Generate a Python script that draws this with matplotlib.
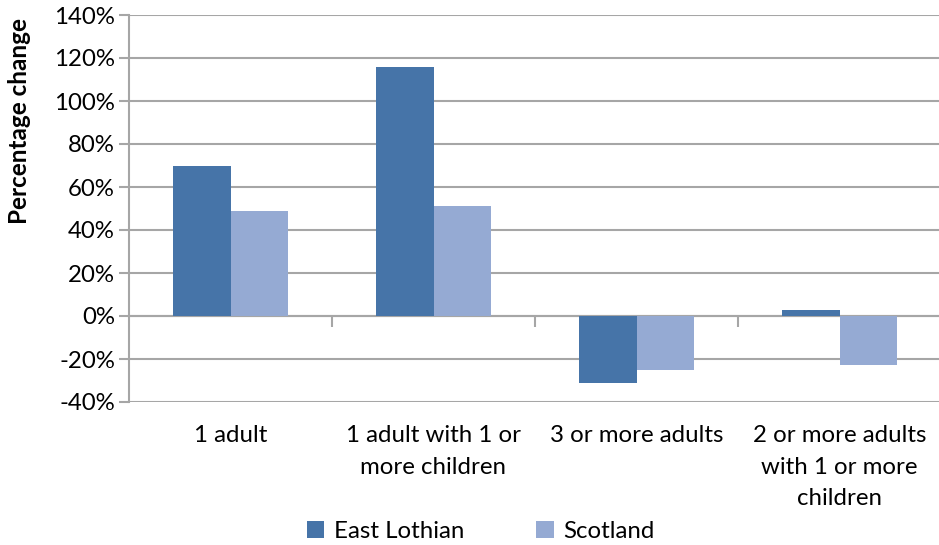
import matplotlib.pyplot as plt
import matplotlib.transforms as mtransforms
import numpy as np

categories = ["1 adult", "1 adult with 1 or\nmore children", "3 or more adults",
              "2 or more adults\nwith 1 or more\nchildren"]
east_lothian = [70, 116, -31, 3]
scotland = [49, 51, -25, -23]
yticks = [-40, -20, 0, 20, 40, 60, 80, 100, 120, 140]

plt.rcParams['font.family'] = ['Lato', 'DejaVu Sans']
grid_col = "#a6a6a6"
fs = 17.3

fig = plt.figure(figsize=(9.39, 5.45), dpi=100)
ax = fig.add_axes([129/939, 1 - 402/545, (941-129)/939, (402-15)/545])

x = np.arange(len(categories))
w = 0.285
ax.bar(x - w/2, east_lothian, w, color="#4674a8", label="East Lothian", zorder=3)
ax.bar(x + w/2, scotland, w, color="#95aad3", label="Scotland", zorder=3)

ax.set_xlim(-0.5, len(categories) - 0.5)
ax.set_ylim(-40, 140)
ax.set_yticks(yticks)
ax.set_yticklabels([f"{v}%" for v in yticks], fontsize=fs)
ax.yaxis.grid(True, color=grid_col, linewidth=1.5, zorder=0)
ax.tick_params(axis='y', length=7, width=1.5, color=grid_col, pad=3)

# category boundary ticks hang off the zero line
ax.spines['bottom'].set_position(('data', 0))
ax.spines['bottom'].set_color(grid_col)
ax.spines['bottom'].set_linewidth(1.5)
ax.set_xticks(x[:-1] + 0.5)
ax.set_xticklabels([])
ax.tick_params(axis='x', length=8, width=1.5, color=grid_col, direction='out')

ax.spines['left'].set_color(grid_col)
ax.spines['left'].set_linewidth(1.5)
ax.spines['top'].set_visible(False)
ax.spines['right'].set_visible(False)

trans = mtransforms.blended_transform_factory(ax.transData, ax.transAxes)
for xi, lab in zip(x, categories):
    ax.text(xi, -0.06, lab, transform=trans, ha='center', va='top',
            fontsize=fs, linespacing=1.62)

ax.set_ylabel("Percentage change", fontsize=17.5, fontweight='bold')
ax.yaxis.set_label_coords(-0.121, 0.727)

fig.legend(loc='lower center', bbox_to_anchor=(0.512, -0.034), ncol=2, frameon=False,
           fontsize=fs, handlelength=0.72, handleheight=0.72, columnspacing=3.0,
           handletextpad=0.4)

plt.savefig("out.png", dpi=100)
